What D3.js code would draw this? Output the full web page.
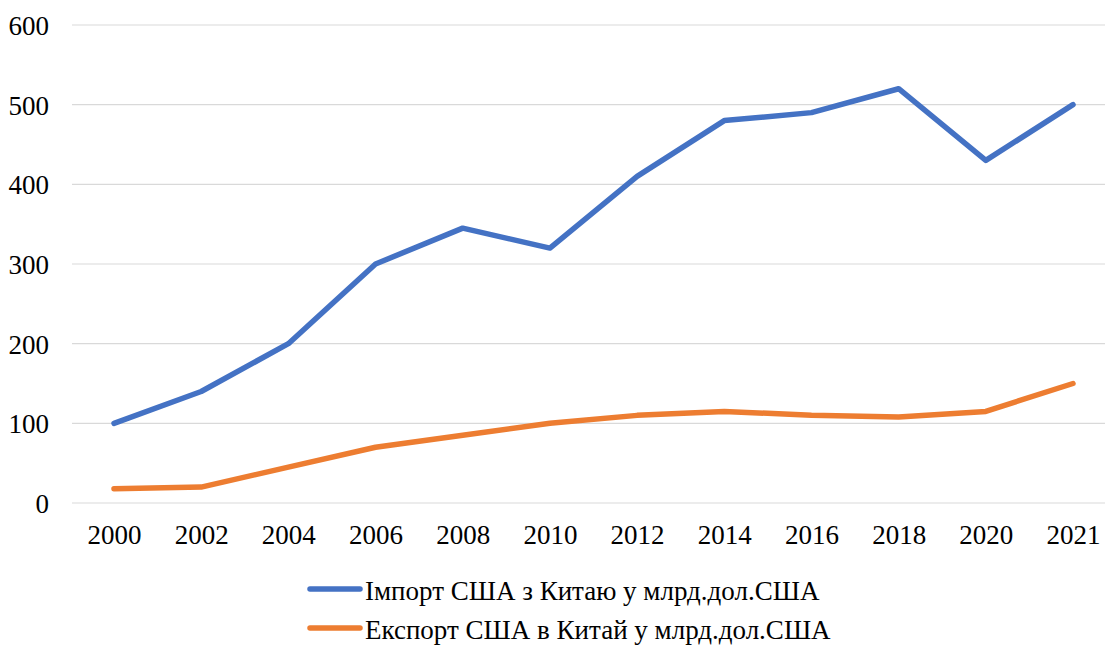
<!DOCTYPE html>
<html>
<head>
<meta charset="utf-8">
<script src="https://cdn.jsdelivr.net/npm/d3@7"></script>
<style>
  body { margin: 0; background: #fff; }
</style>
</head>
<body>
<script>
const years = ["2000", "2002", "2004", "2006", "2008", "2010", "2012", "2014", "2016", "2018", "2020", "2021"];
const importValues = [100, 140, 200, 300, 345, 320, 410, 480, 490, 520, 430, 500];
const exportValues = [18, 20, 45, 70, 85, 100, 110, 115, 110, 108, 115, 150];
const yTicks = [0, 100, 200, 300, 400, 500, 600];
const seriesNames = ["Імпорт США з Китаю у млрд.дол.США", "Експорт США в Китай у млрд.дол.США"];
const colors = ["#4472C4", "#ED7D31"];

const width = 1105, height = 648;
const serif = '"Liberation Serif"';

const svg = d3.select("body")
  .append("svg")
  .attr("width", width)
  .attr("height", height)
  .style("font-family", serif);

const x = d3.scalePoint().domain(years).range([114, 1073]);
const y = d3.scaleLinear().domain([0, 600]).range([503, 25]);

// gridlines
svg.append("g")
  .selectAll("line")
  .data(yTicks)
  .join("line")
  .attr("x1", 72)
  .attr("x2", 1105)
  .attr("y1", d => y(d))
  .attr("y2", d => y(d))
  .attr("stroke", "#d9d9d9")
  .attr("stroke-width", 1.2);

// y labels
const yAxis = d3.axisLeft(y).tickValues(yTicks).tickSize(0).tickPadding(0);
svg.append("g")
  .attr("transform", "translate(49,1)")
  .call(yAxis)
  .attr("font-family", null)
  .attr("font-size", null)
  .call(g => g.select(".domain").remove())
  .selectAll("text")
  .style("font-family", serif)
  .style("font-size", "27px")
  .attr("fill", "#000");

// x labels
const xAxis = d3.axisBottom(x).tickSize(0).tickPadding(0);
svg.append("g")
  .attr("transform", "translate(0,525)")
  .call(xAxis)
  .attr("font-family", null)
  .attr("font-size", null)
  .call(g => g.select(".domain").remove())
  .selectAll("text")
  .style("font-family", serif)
  .style("font-size", "27px")
  .attr("fill", "#000");

const line = d3.line()
  .x((d, i) => x(years[i]))
  .y(d => y(d));

[importValues, exportValues].forEach((vals, k) => {
  svg.append("path")
    .datum(vals)
    .attr("d", line)
    .attr("fill", "none")
    .attr("stroke", colors[k])
    .attr("stroke-width", 5.5)
    .attr("stroke-linejoin", "round")
    .attr("stroke-linecap", "round");
});

// legend
const legend = svg.append("g")
  .selectAll("g")
  .data(seriesNames)
  .join("g")
  .attr("transform", (d, i) => `translate(0,${589 + i * 39})`);

legend.append("line")
  .attr("x1", 310)
  .attr("x2", 360)
  .attr("stroke", (d, i) => colors[i])
  .attr("stroke-width", 5.5)
  .attr("stroke-linecap", "round");

legend.append("text")
  .attr("x", 365)
  .attr("y", 11)
  .style("font-family", serif)
  .style("font-size", "27px")
  .attr("fill", "#000")
  .text(d => d);
</script>
</body>
</html>
